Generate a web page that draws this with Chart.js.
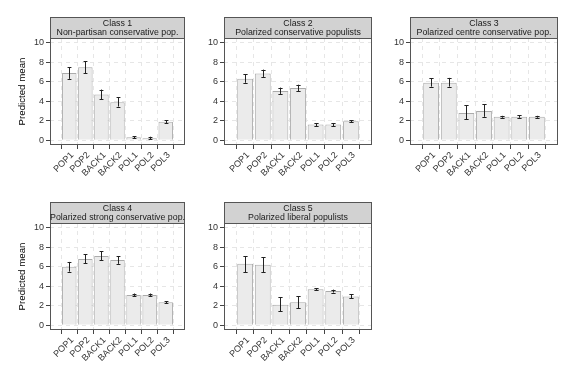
<!DOCTYPE html>
<html>
<head>
<meta charset="utf-8">
<script src="https://cdn.jsdelivr.net/npm/chart.js@4"></script>
<style>
  body { margin: 0; background: #ffffff; }
  #wrap { position: relative; width: 576px; height: 384px; overflow: hidden; }
  canvas { position: absolute; }
</style>
</head>
<body>
<div id="wrap">
  <canvas id="class1" width="192" height="192" style="left:0px;top:0px"></canvas>
  <canvas id="class2" width="182" height="192" style="left:194px;top:0px"></canvas>
  <canvas id="class3" width="182" height="192" style="left:380px;top:0px"></canvas>
  <canvas id="class4" width="192" height="192" style="left:0px;top:185px"></canvas>
  <canvas id="class5" width="182" height="192" style="left:194px;top:185px"></canvas>
</div>
<script>
// Categories and tick labels
const categories = ['POP1', 'POP2', 'BACK1', 'BACK2', 'POL1', 'POL2', 'POL3'];
const yTicks = [0, 2, 4, 6, 8, 10];
const classNames = ['Class 1', 'Class 2', 'Class 3', 'Class 4', 'Class 5'];
const classLabels = [
    'Non-partisan conservative pop.',
    'Polarized conservative populists',
    'Polarized centre conservative pop.',
    'Polarized strong conservative pop.',
    'Polarized liberal populists'
];

// Predicted means with lower / upper interval bounds
const class1Mean = [6.9, 7.5, 4.7, 3.9, 0.3, 0.2, 1.9];
const class1Low  = [6.3, 6.9, 4.2, 3.45, 0.2, 0.1, 1.75];
const class1High = [7.5, 8.1, 5.2, 4.4, 0.4, 0.35, 2.05];

const class2Mean = [6.3, 6.85, 5.05, 5.35, 1.6, 1.6, 1.95];
const class2Low  = [5.9, 6.5, 4.75, 5.05, 1.45, 1.45, 1.85];
const class2High = [6.75, 7.25, 5.4, 5.7, 1.75, 1.75, 2.05];

const class3Mean = [5.9, 5.9, 2.8, 3.0, 2.4, 2.4, 2.4];
const class3Low  = [5.5, 5.5, 2.15, 2.4, 2.3, 2.3, 2.3];
const class3High = [6.35, 6.4, 3.6, 3.7, 2.5, 2.55, 2.5];

const class4Mean = [6.0, 6.8, 7.1, 6.7, 3.1, 3.1, 2.35];
const class4Low  = [5.5, 6.35, 6.65, 6.3, 3.0, 3.0, 2.25];
const class4High = [6.5, 7.3, 7.6, 7.1, 3.25, 3.25, 2.45];

const class5Mean = [6.3, 6.2, 2.1, 2.35, 3.7, 3.5, 2.95];
const class5Low  = [5.45, 5.45, 1.45, 1.75, 3.6, 3.35, 2.75];
const class5High = [7.1, 7.0, 2.85, 2.95, 3.8, 3.65, 3.15];

const FONT = 'Liberation Sans, Arial, sans-serif';

// Strip (facet title) and panel border
const stripPlugin = {
    id: 'strip',
    afterDraw(chart, args, opts) {
        const ctx = chart.ctx;
        const a = chart.chartArea;
        const l = Math.round(a.left) + 0.5, r = Math.round(a.right) - 0.5;
        const t = Math.round(a.top) + 0.5, b = Math.round(a.bottom) - 0.5;
        const st = t - 21;
        ctx.save();
        ctx.fillStyle = '#d2d2d2';
        ctx.fillRect(l, st, r - l, t - st);
        ctx.strokeStyle = '#555555';
        ctx.lineWidth = 1;
        ctx.strokeRect(l, st, r - l, t - st);
        ctx.strokeRect(l, t, r - l, b - t);
        ctx.fillStyle = '#1a1a1a';
        ctx.font = '8.8px ' + FONT;
        ctx.textAlign = 'center';
        ctx.textBaseline = 'middle';
        const cx = (l + r) / 2;
        ctx.fillText(opts.name, cx, st + 6);
        ctx.fillText(opts.label, cx, st + 15.5);
        ctx.restore();
    }
};

// Error bars drawn from the y scale
const errorBarPlugin = {
    id: 'errorBars',
    afterDatasetsDraw(chart, args, opts) {
        const ctx = chart.ctx;
        const meta = chart.getDatasetMeta(0);
        const y = chart.scales.y;
        const x = chart.scales.x;
        const half = Math.abs(x.getPixelForValue(1.12) - x.getPixelForValue(1));
        ctx.save();
        ctx.strokeStyle = '#222222';
        ctx.lineWidth = 1;
        meta.data.forEach((bar, i) => {
            const px = Math.round(bar.x) + 0.5;
            const y1 = y.getPixelForValue(opts.low[i]);
            const y2 = y.getPixelForValue(opts.high[i]);
            ctx.beginPath();
            ctx.moveTo(px, y1);
            ctx.lineTo(px, y2);
            ctx.moveTo(px - half, Math.round(y1) + 0.5);
            ctx.lineTo(px + half, Math.round(y1) + 0.5);
            ctx.moveTo(px - half, Math.round(y2) + 0.5);
            ctx.lineTo(px + half, Math.round(y2) + 0.5);
            ctx.stroke();
        });
        ctx.restore();
    }
};

function buildPanel(id, idx, mean, low, high, showTitle, axisWidth, padRight) {
    const canvas = document.getElementById(id);
    const ctx = canvas.getContext('2d');
    return new Chart(ctx, {
        type: 'bar',
        data: {
            datasets: [{
                data: mean.map((v, i) => ({ x: i + 1, y: v })),
                backgroundColor: '#ebebeb',
                borderColor: '#ababab',
                borderWidth: 1,
                categoryPercentage: 0.9,
                barPercentage: 1.0
            }]
        },
        options: {
            responsive: false,
            animation: false,
            layout: { padding: { top: 38, right: padRight, left: 0, bottom: 0 } },
            plugins: {
                legend: { display: false },
                tooltip: { enabled: false },
                strip: { name: classNames[idx], label: classLabels[idx] },
                errorBars: { low: low, high: high }
            },
            scales: {
                x: {
                    type: 'linear',
                    min: 0.4,
                    max: 7.6,
                    afterBuildTicks: scale => {
                        scale.ticks = categories.map((c, i) => ({ value: i + 1 }));
                    },
                    afterFit: scale => { scale.height = 47; },
                    ticks: {
                        autoSkip: false,
                        minRotation: 45,
                        maxRotation: 45,
                        padding: 1,
                        labelOffset: 3,
                        color: '#333333',
                        font: { family: FONT, size: 9 },
                        callback: v => categories[v - 1]
                    },
                    grid: {
                        color: '#e6e6e6',
                        lineWidth: 1,
                        tickLength: 4,
                        tickColor: '#444444',
                        tickBorderDash: []
                    },
                    border: { display: false, dash: [4, 4] }
                },
                y: {
                    min: -0.5,
                    max: 10.5,
                    afterBuildTicks: scale => {
                        scale.ticks = [0, 1, 2, 3, 4, 5, 6, 7, 8, 9, 10].map(v => ({ value: v }));
                    },
                    afterFit: scale => { scale.width = axisWidth; },
                    title: {
                        display: showTitle,
                        text: 'Predicted mean',
                        color: '#000000',
                        font: { family: FONT, size: 9.7 },
                        padding: { top: 17, bottom: 0 }
                    },
                    ticks: {
                        padding: 2,
                        color: '#333333',
                        font: { family: FONT, size: 9 },
                        callback: v => (yTicks.includes(v) ? v : '')
                    },
                    grid: {
                        color: c => (c.tick && c.tick.value % 2 ? '#efefef' : '#e6e6e6'),
                        lineWidth: 1,
                        tickLength: 4,
                        tickColor: c => (c.tick && c.tick.value % 2 ? 'rgba(0,0,0,0)' : '#444444'),
                        tickBorderDash: []
                    },
                    border: { display: false, dash: [4, 4] }
                }
            }
        },
        plugins: [stripPlugin, errorBarPlugin]
    });
}

buildPanel('class1', 0, class1Mean, class1Low, class1High, true, 50, 7);
buildPanel('class2', 1, class2Mean, class2Low, class2High, false, 30, 4);
buildPanel('class3', 2, class3Mean, class3Low, class3High, false, 30, 4);
buildPanel('class4', 3, class4Mean, class4Low, class4High, true, 50, 7);
buildPanel('class5', 4, class5Mean, class5Low, class5High, false, 30, 4);
</script>
</body>
</html>
